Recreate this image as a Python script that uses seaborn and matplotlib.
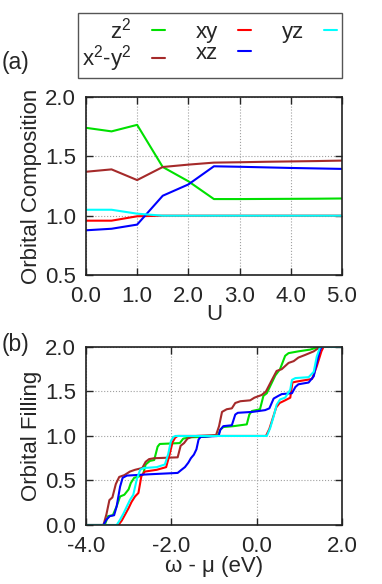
import matplotlib

matplotlib.use("Agg")

import matplotlib.pyplot as plt
import seaborn as sns

sns.set_style("ticks")
plt.rcParams["font.family"] = ["Liberation Sans", "DejaVu Sans"]
plt.rcParams["mathtext.fontset"] = "custom"
plt.rcParams["mathtext.rm"] = "Liberation Sans"
plt.rcParams["font.size"] = 16
plt.rcParams["axes.unicode_minus"] = False

# orbitals, in plotting order
orbital_labels = [r"z$\mathregular{^2}$", r"x$\mathregular{^2}$-y$\mathregular{^2}$", "xy", "xz", "yz"]
orbital_colors = ["#00e000", "#a52a2a", "#ff0000", "#0000ff", "#00ffff"]

# (a) orbital composition vs U
U_vals = [0.0, 0.5, 1.0, 1.5, 2.0, 2.5, 3.0, 3.5, 4.0, 4.5, 5.0]
comp_z2 = [1.74, 1.71, 1.765, 1.41, 1.29, 1.14, 1.14, 1.141, 1.142, 1.143, 1.145]
comp_x2y2 = [1.37, 1.39, 1.30, 1.41, 1.43, 1.447, 1.45, 1.454, 1.457, 1.46, 1.464]
comp_xy = [0.958, 0.958, 0.995, 1.0, 1.0, 1.0, 1.0, 1.0, 1.0, 1.0, 1.0]
comp_xz = [0.877, 0.89, 0.925, 1.168, 1.263, 1.416, 1.412, 1.407, 1.402, 1.398, 1.394]
comp_yz = [1.05, 1.05, 1.017, 1.0, 1.0, 1.0, 1.0, 1.0, 1.0, 1.0, 1.0]

# (b) orbital filling vs omega - mu
w_z2 = [-4.0, -3.56, -3.48, -3.37, -3.28, -3.20, -3.10, -3.00, -2.95, -2.87,
        -2.72, -2.66, -2.60, -2.50, -2.40, -2.32, -2.27, -1.80, -1.72, -1.55,
        -1.20, -0.90, -0.85, -0.78, -0.54, -0.23, -0.17, -0.11, 0.08, 0.16,
        0.24, 0.44, 0.55, 0.67, 0.75, 0.98, 1.26, 1.45, 2.0]
n_z2 = [0.0, 0.0, 0.10, 0.11, 0.21, 0.32, 0.34, 0.40, 0.47, 0.53,
        0.55, 0.57, 0.68, 0.72, 0.73, 0.88, 0.91, 0.92, 0.97, 0.985,
        0.99, 1.01, 1.07, 1.10, 1.11, 1.13, 1.24, 1.28, 1.30, 1.45,
        1.48, 1.68, 1.75, 1.90, 1.93, 1.95, 1.97, 2.0, 2.0]

w_x2y2 = [-4.0, -3.59, -3.52, -3.45, -3.38, -3.30, -3.22, -3.10, -2.97, -2.85,
          -2.68, -2.60, -2.52, -2.40, -1.85, -1.78, -1.70, -1.62, -1.52, -1.40,
          -0.95, -0.88, -0.81, -0.70, -0.58, -0.50, -0.38, -0.15, -0.05, 0.12,
          0.22, 0.36, 0.47, 0.59, 0.75, 0.87, 0.98, 1.14, 1.34, 1.49, 2.0]
n_x2y2 = [0.0, 0.0, 0.12, 0.28, 0.31, 0.46, 0.54, 0.56, 0.60, 0.62,
          0.64, 0.71, 0.74, 0.75, 0.76, 0.89, 0.92, 0.97, 0.99, 1.0,
          1.01, 1.11, 1.27, 1.30, 1.31, 1.37, 1.39, 1.40, 1.43, 1.46,
          1.50, 1.63, 1.73, 1.75, 1.82, 1.84, 1.88, 1.91, 1.95, 2.0, 2.0]

w_xy = [-4.0, -3.24, -3.16, -3.08, -3.00, -2.93, -2.85, -2.77, -2.70, -2.62,
        -2.34, -2.12, -2.04, -1.97, -1.91, -1.85, 0.22, 0.30, 0.38, 0.46,
        0.54, 0.67, 0.79, 0.84, 0.93, 1.18, 1.30, 1.41, 1.52, 1.57, 2.0]
n_xy = [0.0, 0.0, 0.05, 0.12, 0.19, 0.26, 0.32, 0.36, 0.55, 0.60,
        0.62, 0.65, 0.79, 0.93, 0.98, 1.0, 1.0, 1.08, 1.20, 1.32,
        1.37, 1.40, 1.43, 1.60, 1.61, 1.63, 1.64, 1.78, 1.95, 2.0, 2.0]

w_xz = [-4.0, -3.59, -3.52, -3.44, -3.34, -3.28, -3.24, -3.20, -3.14, -3.04,
        -2.50, -1.85, -1.76, -1.68, -1.60, -1.54, -1.47, -1.41, -1.36, -1.31,
        -0.89, -0.85, -0.78, -0.58, -0.50, -0.44, -0.10, 0.20, 0.30, 0.40,
        0.51, 0.59, 0.83, 0.91, 0.98, 1.22, 1.34, 1.41, 1.49, 1.53, 2.0]
n_xz = [0.0, 0.0, 0.06, 0.10, 0.11, 0.21, 0.32, 0.43, 0.53, 0.555,
        0.57, 0.585, 0.62, 0.65, 0.70, 0.75, 0.79, 0.85, 0.96, 0.99,
        1.0, 1.07, 1.11, 1.12, 1.24, 1.26, 1.27, 1.29, 1.31, 1.42,
        1.45, 1.47, 1.48, 1.55, 1.58, 1.60, 1.67, 1.82, 1.97, 2.0, 2.0]

w_yz = [-4.0, -3.28, -3.20, -3.12, -3.04, -2.97, -2.89, -2.81, -2.73, -2.65,
        -2.34, -2.15, -2.07, -2.01, -1.95, -1.90, 0.24, 0.32, 0.40, 0.47,
        0.55, 0.67, 0.79, 0.83, 0.91, 1.22, 1.34, 1.41, 1.49, 2.0]
n_yz = [0.0, 0.0, 0.06, 0.13, 0.21, 0.28, 0.34, 0.51, 0.62, 0.64,
        0.65, 0.68, 0.80, 0.94, 0.99, 1.0, 1.0, 1.09, 1.22, 1.35,
        1.41, 1.43, 1.52, 1.63, 1.65, 1.66, 1.72, 1.89, 2.0, 2.0]

comp_series = [comp_z2, comp_x2y2, comp_xy, comp_xz, comp_yz]
fill_series = [(w_z2, n_z2), (w_x2y2, n_x2y2), (w_xy, n_xy), (w_xz, n_xz), (w_yz, n_yz)]

fig = plt.figure(figsize=(3.82, 5.84), dpi=100)
ax1 = fig.add_axes([0.225, 0.529, 0.670, 0.305])
ax2 = fig.add_axes([0.225, 0.101, 0.670, 0.305])

handles = []
for comp, col, lab in zip(comp_series, orbital_colors, orbital_labels):
    sns.lineplot(x=U_vals, y=comp, color=col, lw=1.5, ax=ax1, label=lab, legend=False)
    handles.append(ax1.lines[-1])

for (w, n), col in zip(fill_series, orbital_colors):
    sns.lineplot(x=w, y=n, color=col, lw=1.5, ax=ax2, legend=False)

ax1.set_xlim(0, 5)
ax1.set_ylim(0.5, 2.0)
ax1.set_xticks([0, 1, 2, 3, 4, 5])
ax1.set_xticklabels(["0.0", "1.0", "2.0", "3.0", "4.0", "5.0"])
ax1.set_yticks([0.5, 1.0, 1.5, 2.0])
ax1.set_yticklabels(["0.5", "1.0", "1.5", "2.0"])
ax1.set_xlabel("U", labelpad=-2)
ax1.set_ylabel("Orbital Composition", labelpad=2)

ax2.set_xlim(-4, 2)
ax2.set_ylim(0, 2)
ax2.set_xticks([-4, -2, 0, 2])
ax2.set_xticklabels(["-4.0", "-2.0", "0.0", "2.0"])
ax2.set_yticks([0, 0.5, 1.0, 1.5, 2.0])
ax2.set_yticklabels(["0.0", "0.5", "1.0", "1.5", "2.0"])
ax2.set_xlabel("ω - μ (eV)", labelpad=-1)
ax2.set_ylabel("Orbital Filling", labelpad=2)

for ax in (ax1, ax2):
    ax.grid(True, ls=":", color="#a0a0a0", lw=0.8)
    ax.tick_params(direction="in", top=True, right=True, length=5, width=1)
    ax.tick_params(axis="x", pad=8)
    ax.tick_params(axis="y", pad=7)
    for sp in ax.spines.values():
        sp.set_color("#202020")
        sp.set_linewidth(1.2)

fig.legend(handles, orbital_labels, ncol=3, loc="center",
           bbox_to_anchor=(0.204, 0.868, 0.691, 0.108), mode="expand",
           markerfirst=False, handlelength=0.6, handletextpad=0.9,
           labelspacing=0.0, borderaxespad=0, borderpad=0.2, fancybox=False,
           edgecolor="#555555", framealpha=1, fontsize=16)

fig.text(0.003, 1 - 62 / 584, "(a)", va="center", ha="left", fontsize=16.5)
fig.text(0.003, 1 - 345 / 584, "(b)", va="center", ha="left", fontsize=16.5)

fig.savefig("out.png", dpi=100)
